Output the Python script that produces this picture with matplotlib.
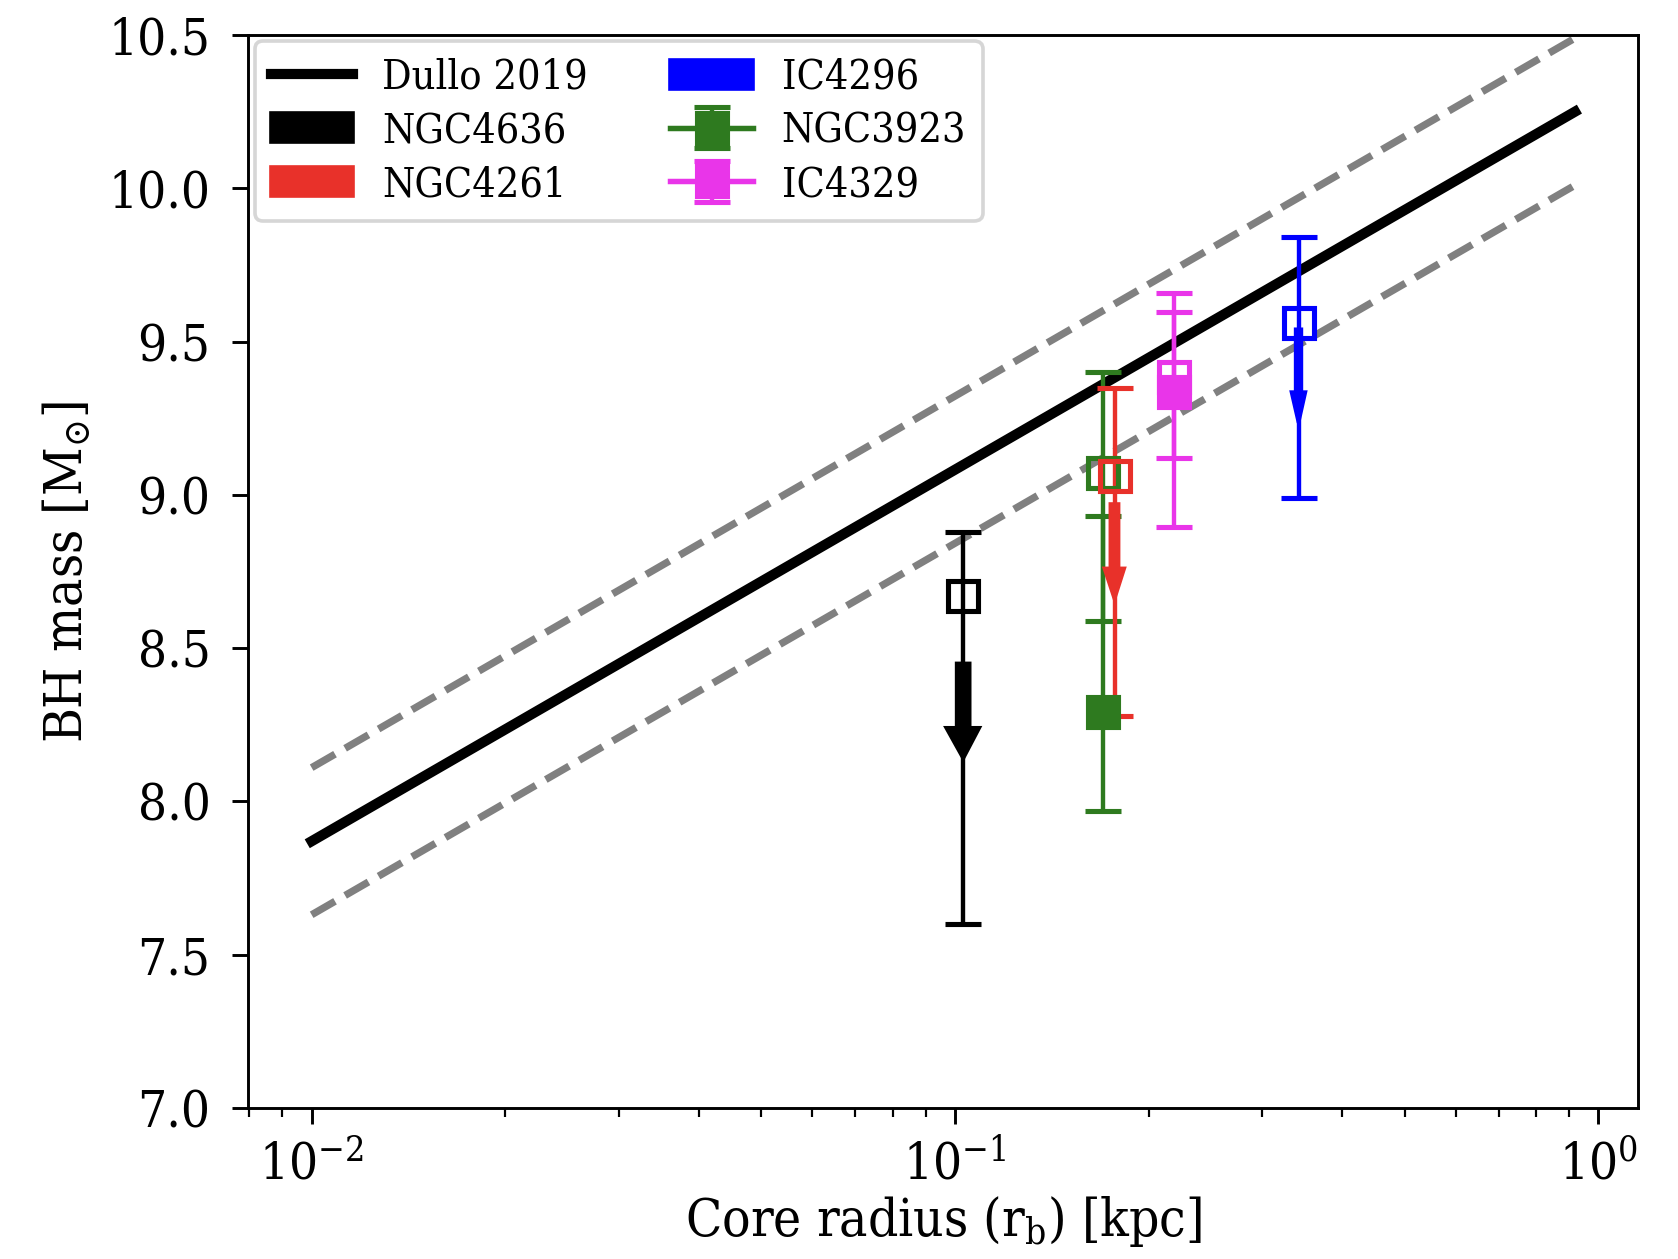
import matplotlib
matplotlib.use("Agg")
import matplotlib.pyplot as plt
import matplotlib.patches as mpatches

plt.rcParams['font.family'] = 'DejaVu Serif'
plt.rcParams['font.stretch'] = 'condensed'
plt.rcParams['mathtext.fontset'] = 'dejavuserif'

# ---- Dullo 2019 relation (end points) and its scatter ----
dullo_rb = [0.01, 0.92]
dullo_mbh = [7.87, 10.25]
dullo_scatter = 0.24

# ---- galaxies: core radius [kpc], log BH mass, lower / upper errors ----
names = ["NGC4636", "NGC4261", "IC4296", "NGC3923", "IC4329"]
colors = {"NGC4636": "black", "NGC4261": "#e8312a", "IC4296": "blue",
          "NGC3923": "#2e7a1f", "IC4329": "#e935e9"}

# open squares
open_rb = {"NGC4636": 0.103, "NGC3923": 0.170, "NGC4261": 0.177,
           "IC4329": 0.219, "IC4296": 0.342}
open_mbh = {"NGC4636": 8.67, "NGC3923": 9.07, "NGC4261": 9.06,
            "IC4329": 9.385, "IC4296": 9.56}
open_err_lo = {"NGC4636": 1.07, "NGC3923": 0.48, "NGC4261": 0.78,
               "IC4329": 0.265, "IC4296": 0.57}
open_err_hi = {"NGC4636": 0.21, "NGC3923": 0.33, "NGC4261": 0.29,
               "IC4329": 0.275, "IC4296": 0.28}

# filled squares
filled_rb = {"NGC3923": 0.170, "IC4329": 0.219}
filled_mbh = {"NGC3923": 8.29, "IC4329": 9.335}
filled_err_lo = {"NGC3923": 0.32, "IC4329": 0.44}
filled_err_hi = {"NGC3923": 0.64, "IC4329": 0.26}

# upper-limit arrows: start (log M) and length
arrow_names = ["NGC4636", "NGC4261", "IC4296"]
arrow_start = {"NGC4636": 8.45, "NGC4261": 8.97, "IC4296": 9.54}
arrow_len = {"NGC4636": 0.31, "NGC4261": 0.31, "IC4296": 0.305}
arrow_width = {"NGC4636": 0.0048, "NGC4261": 0.0052, "IC4296": 0.007}
arrow_head = {"NGC4636": 0.0122, "NGC4261": 0.0126, "IC4296": 0.017}

fig = plt.figure(figsize=(6.4, 4.8), dpi=262.34)
ax = fig.add_axes([0.148, 0.120, 0.8277, 0.852])

ax.plot(dullo_rb, dullo_mbh, color='black', lw=2.8, label="Dullo 2019", zorder=2)
ax.plot(dullo_rb, [m + dullo_scatter for m in dullo_mbh], '--', color='grey', lw=2, zorder=1)
ax.plot(dullo_rb, [m - dullo_scatter for m in dullo_mbh], '--', color='grey', lw=2, zorder=1)

eb_kw = dict(marker='s', ms=8, mew=1.4, elinewidth=1.2, capsize=5, capthick=1.2)


def open_point(name):
    c = colors[name]
    ax.errorbar([open_rb[name]], [open_mbh[name]],
                yerr=[[open_err_lo[name]], [open_err_hi[name]]],
                color=c, mfc='none', mec=c, **eb_kw)


def filled_point(name):
    c = colors[name]
    return ax.errorbar([filled_rb[name]], [filled_mbh[name]],
                       yerr=[[filled_err_lo[name]], [filled_err_hi[name]]],
                       color=c, mfc=c, mec=c, label=name, **eb_kw)


open_point("NGC4636")
open_point("NGC3923")
open_point("NGC4261")
h_3923 = filled_point("NGC3923")
open_point("IC4329")
h_4329 = filled_point("IC4329")
open_point("IC4296")

for name in arrow_names:
    ax.arrow(open_rb[name], arrow_start[name], 0, -arrow_len[name],
             width=arrow_width[name], head_width=arrow_head[name],
             head_length=0.1, length_includes_head=True,
             color=colors[name], zorder=5)

ax.set_xscale('log')
ax.set_ylim(7.0, 10.5)
ax.set_yticks([7.0, 7.5, 8.0, 8.5, 9.0, 9.5, 10.0, 10.5])
ax.tick_params(which='major', labelsize=14, length=4.4)
ax.tick_params(axis='y', which='major', pad=6)
ax.tick_params(axis='x', which='major', pad=4.5)
ax.tick_params(which='minor', length=2.5)
ax.set_xlabel(r"Core radius (r$_{\rm b}$) [kpc]", fontsize=14.5, labelpad=1)
ax.set_ylabel(r"BH mass [M$_{\odot}$]", fontsize=14.5)

line_h = ax.get_lines()[0]
handles = [line_h,
           mpatches.Patch(color=colors["NGC4636"], label="NGC4636"),
           mpatches.Patch(color=colors["NGC4261"], label="NGC4261"),
           mpatches.Patch(color=colors["IC4296"], label="IC4296"),
           h_3923, h_4329]
ax.legend(handles=handles, ncol=2, loc='upper left', fontsize=11.3,
          handlelength=2.0, handletextpad=0.7, columnspacing=2.0,
          borderaxespad=0.15, labelspacing=0.33)

fig.savefig("out.png", dpi=262.34)
